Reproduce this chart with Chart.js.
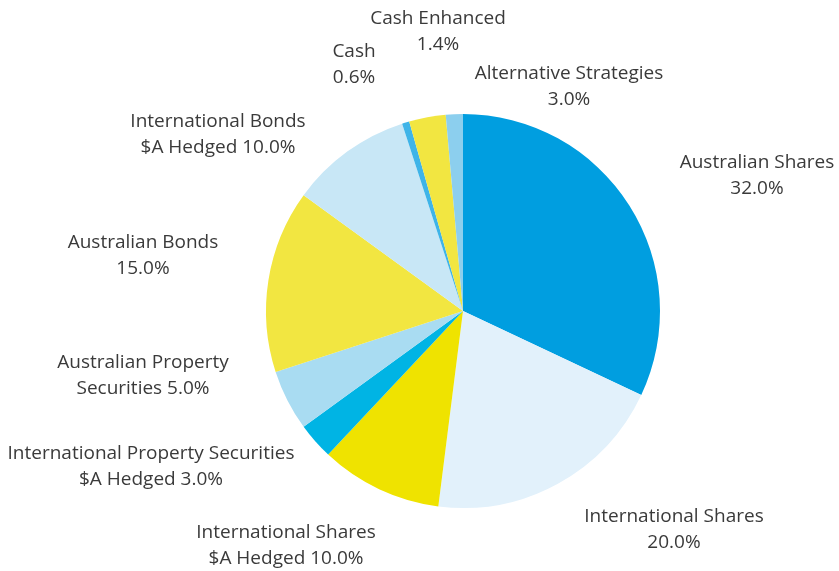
<!DOCTYPE html>
<html>
<head>
<meta charset="utf-8">
<script src="https://cdn.jsdelivr.net/npm/chart.js@4"></script>
<style>
  html, body { margin: 0; padding: 0; background: #fff; }
  #wrap { width: 839px; height: 571px; position: relative; }
</style>
</head>
<body>
<div id="wrap"><canvas id="pie"></canvas></div>
<script>
const categories = [
  'Australian Shares',
  'International Shares',
  'International Shares $A Hedged',
  'International Property Securities $A Hedged',
  'Australian Property Securities',
  'Australian Bonds',
  'International Bonds $A Hedged',
  'Cash',
  'Alternative Strategies',
  'Cash Enhanced'
];
const weights = [32.0, 20.0, 10.0, 3.0, 5.0, 15.0, 10.0, 0.6, 3.0, 1.4];
const colours = ['#009ee0', '#e2f1fb', '#efe300', '#00b4e4', '#a9dcf2', '#f2e641', '#c8e7f6', '#3fb4e8', '#f2e641', '#8ccfee'];

// label text lines (the value is appended to the last line) and where to put them
const labelLines = [
  ['Australian Shares', ''],
  ['International Shares', ''],
  ['International Shares', '$A Hedged '],
  ['International Property Securities', '$A Hedged '],
  ['Australian Property', 'Securities '],
  ['Australian Bonds', ''],
  ['International Bonds', '$A Hedged '],
  ['Cash', ''],
  ['Alternative Strategies', ''],
  ['Cash Enhanced', '']
];
const labelPos = [
  [757, 163], [674, 517], [286, 533], [151, 454], [143, 363],
  [143, 243], [218, 122], [354, 52], [569, 74], [438, 19]
];

const labelPlugin = {
  id: 'outerLabels',
  afterDraw(chart) {
    const ctx = chart.ctx;
    ctx.save();
    ctx.font = '19px "Open Sans", sans-serif';
    ctx.fillStyle = '#3a3a3a';
    ctx.textAlign = 'center';
    ctx.textBaseline = 'middle';
    weights.forEach((v, i) => {
      const [x, y] = labelPos[i];
      const lines = labelLines[i];
      ctx.fillText(lines[0], x, y);
      ctx.fillText(lines[1] + v.toFixed(1) + '%', x, y + 26);
    });
    ctx.restore();
  }
};

new Chart(document.getElementById('pie'), {
  type: 'pie',
  data: {
    labels: categories,
    datasets: [{
      data: weights,
      backgroundColor: colours,
      borderWidth: 0
    }]
  },
  options: {
    responsive: true,
    maintainAspectRatio: false,
    animation: false,
    layout: { padding: { top: 114, bottom: 63, left: 100, right: 13 } },
    plugins: { legend: { display: false }, tooltip: { enabled: false } }
  },
  plugins: [labelPlugin]
});
</script>
</body>
</html>
